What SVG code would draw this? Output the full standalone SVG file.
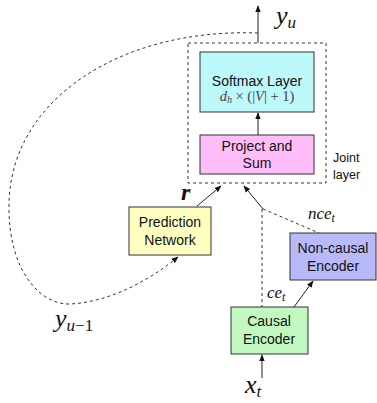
<svg xmlns="http://www.w3.org/2000/svg" width="377" height="403" viewBox="0 0 377 403">
<style>
.box{stroke:#333;stroke-width:1}
.lbl{font-family:"Liberation Sans",Arial,sans-serif;font-size:14px;fill:#111;text-anchor:middle}
.m{font-family:"Liberation Serif","Times New Roman",serif;font-style:italic;fill:#111}
.ln{fill:none;stroke:#222;stroke-width:1}
.dash{fill:none;stroke:#333;stroke-width:1;stroke-dasharray:3,3}
</style>
<defs>
<marker id="ah" viewBox="0 0 10 10" refX="9" refY="5" markerWidth="7" markerHeight="7" orient="auto" markerUnits="userSpaceOnUse">
<path d="M0,1 L10,5 L0,9 Z" fill="#111"/>
</marker>
</defs>
<rect width="377" height="403" fill="#fff"/>
<g id="joint">
<rect x="188" y="43" width="138" height="140" class="dash"/>
<text x="333" y="162" style="font-family:'Liberation Sans',Arial,sans-serif;font-size:12.5px;fill:#111">Joint</text>
<text x="333" y="179" style="font-family:'Liberation Sans',Arial,sans-serif;font-size:12.5px;fill:#111">layer</text>
</g>
<g id="softmax">
<rect x="200" y="52" width="114" height="60" class="box" fill="#bdf8fb"/>
<text x="257" y="86" class="lbl">Softmax Layer</text>
<text x="257" y="101" class="m" style="font-size:14.5px;text-anchor:middle;fill:#444">d<tspan font-size="10" dy="2">h</tspan><tspan dy="-2" font-style="normal"> × (|</tspan>V<tspan font-style="normal">| + 1)</tspan></text>
</g>
<g id="project">
<rect x="200" y="135" width="114" height="39" class="box" fill="#ffbdf9"/>
<text x="257" y="151" class="lbl">Project and</text>
<text x="257" y="168" class="lbl">Sum</text>
</g>
<g id="prediction">
<rect x="129" y="207" width="82" height="48" class="box" fill="#ffffc0"/>
<text x="170" y="227" class="lbl">Prediction</text>
<text x="170" y="245" class="lbl">Network</text>
</g>
<g id="noncausal">
<rect x="290" y="233" width="86" height="47" class="box" fill="#b9b9f9"/>
<text x="333" y="253" class="lbl">Non-causal</text>
<text x="333" y="271" class="lbl">Encoder</text>
</g>
<g id="causal">
<rect x="231" y="307" width="77" height="47" class="box" fill="#c0f8c0"/>
<text x="269" y="326" class="lbl">Causal</text>
<text x="269" y="344" class="lbl">Encoder</text>
</g>
<g id="connectors">
<path d="M258,135 V113" class="ln" marker-end="url(#ah)"/>
<path d="M258,43 V6" class="ln" marker-end="url(#ah)"/>
<path d="M258,33 C120,28 10,100 9,205 C8,270 40,305 70,304 C110,302 150,280 178,257" class="dash" marker-end="url(#ah)"/>
<path d="M197,206 L221,186" class="ln" marker-end="url(#ah)"/>
<path d="M263,209 L244,186" class="ln" marker-end="url(#ah)"/>
<path d="M263,209 L319,233" class="dash"/>
<path d="M262,209 V307" class="dash"/>
<path d="M294,307 L313,281" class="ln" marker-end="url(#ah)"/>
<path d="M262,378 V355" class="ln" marker-end="url(#ah)"/>
</g>
<g id="labels">
<text x="276" y="24" class="m" style="font-size:26px">y<tspan font-size="17" dy="4">u</tspan></text>
<text x="181" y="200" class="m" style="font-size:24px;font-weight:bold">r</text>
<text x="308" y="219" class="m" style="font-size:17px">nce<tspan font-size="12" dy="3">t</tspan></text>
<text x="267" y="298" class="m" style="font-size:17px">ce<tspan font-size="12" dy="3">t</tspan></text>
<text x="55" y="327" class="m" style="font-size:26px">y<tspan font-size="17" dy="4">u</tspan><tspan font-style="normal" font-size="17">−1</tspan></text>
<text x="245" y="393" class="m" style="font-size:26px">x<tspan font-size="17" dy="4">t</tspan></text>
</g>
</svg>
